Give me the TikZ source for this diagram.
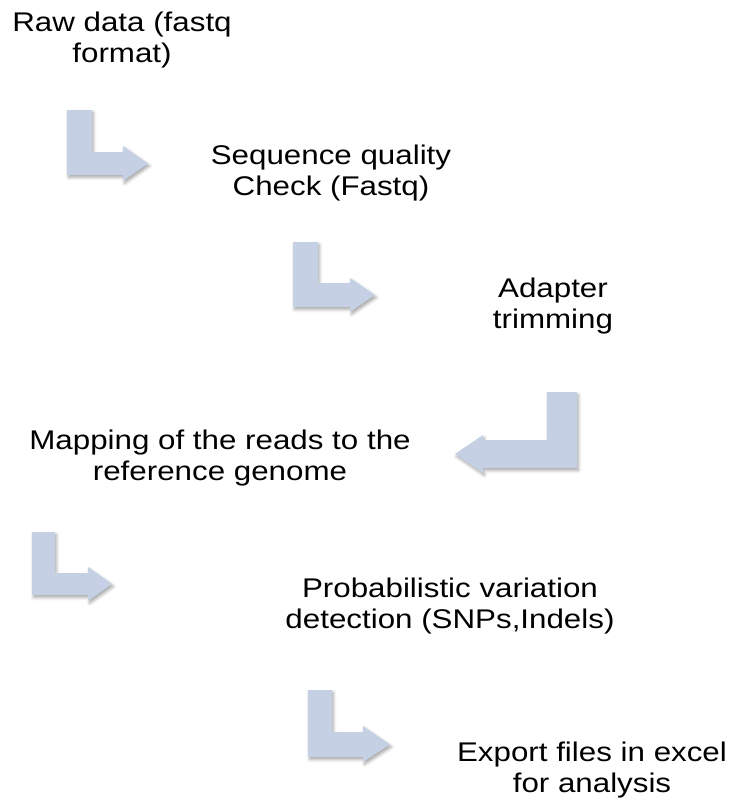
\documentclass[tikz,border=0pt]{standalone}
\usepackage{fontspec}
\newfontfamily\stepfont[FakeStretch=1.16]{Liberation Sans}
\usetikzlibrary{shadows.blur}
\definecolor{arrowblue}{HTML}{C5D0E4}

\tikzset{
  steptext/.style={font=\stepfont\fontsize{27bp}{31bp}\selectfont, align=center, anchor=base, inner sep=0pt},
  flowarrow/.style={fill=arrowblue, blur shadow={shadow xshift=1.5bp, shadow yshift=-2.5bp, shadow blur radius=3bp, shadow opacity=35}}
}

\begin{document}
\begin{tikzpicture}[x=1bp,y=-1bp]
  \useasboundingbox (0,0) rectangle (735,803);
  % the steps (placed on the baseline of their last line)
  \node [steptext] (raw)    at (122,63)  {Raw data (fastq\\format)};
  \node [steptext] (qc)     at (331,195) {Sequence quality\\Check (Fastq)};
  \node [steptext] (trim)   at (553,328) {Adapter\\trimming};
  \node [steptext] (map)    at (220,480) {Mapping of the reads to the\\reference genome};
  \node [steptext] (call)   at (450,628) {Probabilistic variation\\detection (SNPs,Indels)};
  \node [steptext] (export) at (592,792) {Export files in excel\\for analysis};
  % the bent arrows
  \fill [flowarrow] (67,110) -- (92,110) -- (92,152) -- (123,152) -- (123,146) -- (148,163.5)
                    -- (123,181) -- (123,175) -- (67,175) -- cycle;
  \fill [flowarrow] (293,242) -- (318,242) -- (318,283) -- (350,283) -- (350,278) -- (375,295)
                    -- (350,312) -- (350,307) -- (293,307) -- cycle;
  \fill [flowarrow] (577,392) -- (547,392) -- (547,440) -- (483,440) -- (483,435) -- (455,454)
                    -- (483,473) -- (483,468) -- (577,468) -- cycle;
  \fill [flowarrow] (32,532) -- (55,532) -- (55,573) -- (88,573) -- (88,567) -- (112,584)
                    -- (88,601) -- (88,595) -- (32,595) -- cycle;
  \fill [flowarrow] (308,690) -- (332,690) -- (332,732) -- (363,732) -- (363,726) -- (390,744.5)
                    -- (363,762) -- (363,757) -- (308,757) -- cycle;
\end{tikzpicture}
\end{document}
